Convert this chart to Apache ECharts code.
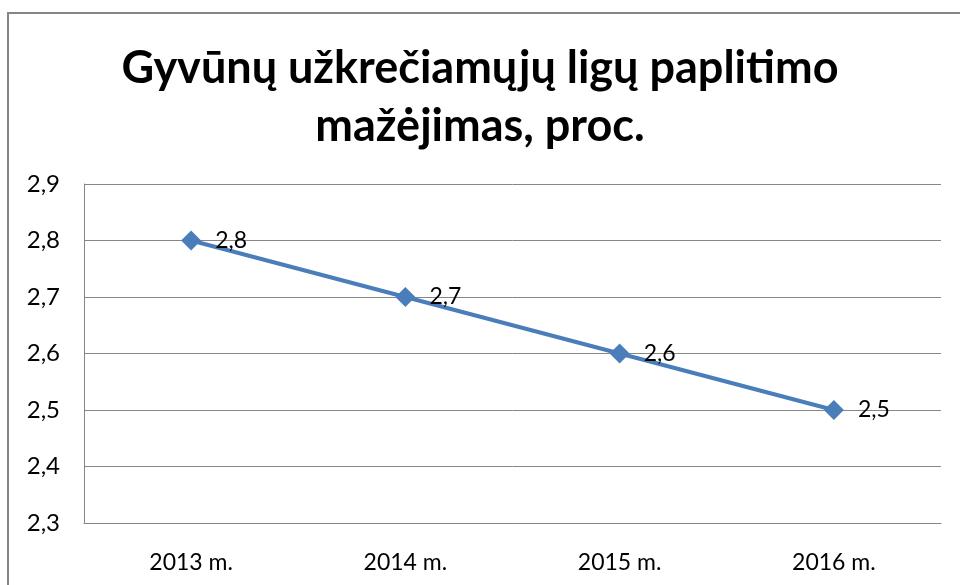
<!DOCTYPE html>
<html>
<head>
<meta charset="utf-8">
<script src="https://cdn.jsdelivr.net/npm/echarts@6/dist/echarts.min.js"></script>
<style>
  html, body { margin: 0; padding: 0; background: #fff; }
  #chart { width: 960px; height: 585px; }
</style>
</head>
<body>
<div id="chart"></div>
<script>
var years = ['2013 m.', '2014 m.', '2015 m.', '2016 m.'];
var values = [2.8, 2.7, 2.6, 2.5];
var titleLines = ['Gyvūnų užkrečiamųjų ligų paplitimo', 'mažėjimas, proc.'];

function comma(v) {
    return String(v.toFixed(1)).replace('.', ',');
}

var chart = echarts.init(document.getElementById('chart'));
chart.setOption({
    animation: false,
    backgroundColor: '#fff',
    title: {
        text: titleLines.join('\n'),
        left: 'center',
        top: 34,
        textStyle: {
            fontFamily: 'Lato',
            fontWeight: 'bold',
            fontSize: 45,
            lineHeight: 58,
            color: '#000'
        }
    },
    graphic: [{
        type: 'rect',
        shape: { x: 8, y: 13, width: 960, height: 600 },
        style: { fill: 'none', stroke: '#868686', lineWidth: 2 },
        silent: true
    }],
    grid: {
        left: 84,
        right: 19,
        top: 184,
        bottom: 62
    },
    xAxis: {
        type: 'category',
        data: years,
        boundaryGap: true,
        axisLine: { lineStyle: { color: '#868686', width: 1 } },
        axisTick: { show: false },
        axisLabel: {
            fontFamily: 'Lato',
            fontSize: 23,
            color: '#000',
            margin: 28
        }
    },
    yAxis: {
        type: 'value',
        min: 2.3,
        max: 2.9,
        interval: 0.1,
        axisLine: { show: true, lineStyle: { color: '#868686', width: 1 } },
        axisTick: { show: false },
        splitLine: { lineStyle: { color: '#868686', width: 1 } },
        axisLabel: {
            fontFamily: 'Lato',
            fontSize: 24,
            color: '#000',
            margin: 24,
            formatter: function (v) { return comma(v); }
        }
    },
    series: [{
        type: 'line',
        data: values,
        symbol: 'diamond',
        symbolSize: 20,
        lineStyle: { color: '#4A7EBB', width: 4 },
        itemStyle: { color: '#4A7EBB' },
        label: {
            show: true,
            position: 'right',
            distance: 14,
            fontFamily: 'Lato',
            fontSize: 23,
            color: '#000',
            formatter: function (p) { return comma(p.value); }
        }
    }]
});
</script>
</body>
</html>
